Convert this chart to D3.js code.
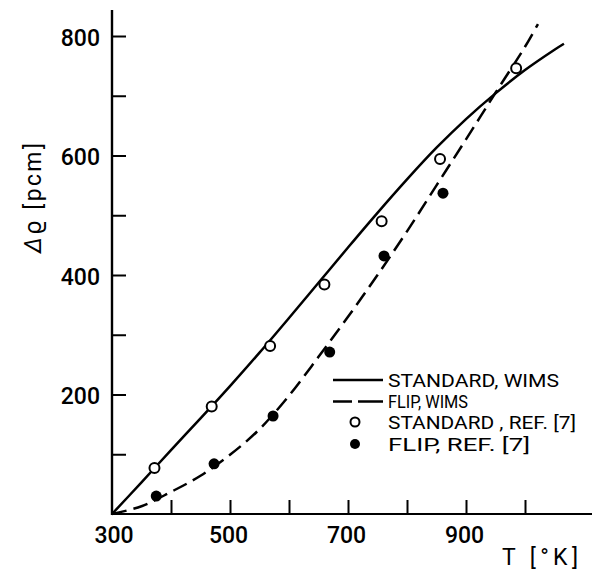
<!DOCTYPE html>
<html>
<head>
<meta charset="utf-8">
<script src="https://cdn.jsdelivr.net/npm/d3@7"></script>
<style>
  html, body { margin: 0; padding: 0; background: #fff; }
  svg { display: block; }
  text { font-family: Roboto, "DejaVu Sans", sans-serif; fill: #000; }
</style>
</head>
<body>
<svg id="chart" width="592" height="571"></svg>
<script>
// ---- data ----
const xTickValues = [400, 500, 600, 700, 800, 900, 1000];
const xTickLabels = ["", "500", "", "700", "", "900", ""];
const xOriginLabel = "300";
const yTickValues = [100, 200, 300, 400, 500, 600, 700, 800];
const yTickLabels = ["", "200", "", "400", "", "600", "", "800"];

const standardWimsT = [300, 350, 400, 450, 500, 550, 600, 650, 700, 750, 800, 850, 900, 950, 1000, 1050, 1066];
const standardWimsV = [0, 53, 107, 160, 214, 270, 328, 387, 446, 504, 560, 613, 661, 704, 743, 777, 787];

const flipWimsT = [300, 350, 400, 450, 500, 550, 600, 650, 700, 750, 800, 850, 900, 950, 1000, 1022];
const flipWimsV = [0, 13, 37, 64, 99, 142, 198, 263, 330, 400, 473, 550, 627, 705, 782, 820];

const standardRefT = [372, 469, 568, 660, 757, 856, 985];
const standardRefV = [77, 180, 281, 384, 490, 594, 746];

const flipRefT = [375, 473, 573, 669, 761, 861];
const flipRefV = [30, 84, 164, 271, 432, 537];

const legendLabels = ["STANDARD, WIMS", "FLIP, WIMS", "STANDARD , REF. [7]", "FLIP, REF. [7]"];
const xAxisTitle = "T [°K]";
const yAxisTitleDelta = "Δ";
const yAxisTitleRest = "ϱ [pcm]";

// ---- drawing ----
const svg = d3.select("#chart");
const x = d3.scaleLinear().domain([300, 1100]).range([112, 584]);
const y = d3.scaleLinear().domain([0, 800]).range([514, 36]);

const fontSize = 23;

// axis lines
svg.append("line").attr("x1", x(300)).attr("x2", 592).attr("y1", y(0)).attr("y2", y(0))
  .attr("stroke", "#000").attr("stroke-width", 2.2);
svg.append("line").attr("x1", x(300)).attr("x2", x(300)).attr("y1", y(0) + 1).attr("y2", 10)
  .attr("stroke", "#000").attr("stroke-width", 2.4);

// x axis
const xAxis = d3.axisBottom(x)
  .tickValues(xTickValues)
  .tickSizeInner(-14).tickSizeOuter(0).tickPadding(13)
  .tickFormat((d, i) => xTickLabels[i]);
const gx = svg.append("g").attr("transform", `translate(0,${y(0)})`).call(xAxis);
gx.select(".domain").remove();
gx.selectAll(".tick line").attr("stroke", "#000").attr("stroke-width", 2);
gx.selectAll(".tick text").attr("font-size", fontSize).attr("font-family", "Roboto, sans-serif")
  .attr("font-weight", 500).attr("fill", "#000").attr("dx", -2);
// origin label
svg.append("text").attr("x", x(300) + 2).attr("y", y(0) + 29).attr("text-anchor", "middle")
  .attr("font-size", fontSize).attr("font-weight", 500).text(xOriginLabel);

// y axis
const yAxis = d3.axisLeft(y)
  .tickValues(yTickValues)
  .tickSizeInner(-14).tickSizeOuter(0).tickPadding(12)
  .tickFormat((d, i) => yTickLabels[i]);
const gy = svg.append("g").attr("transform", `translate(${x(300)},0)`).call(yAxis);
gy.select(".domain").remove();
gy.selectAll(".tick line").attr("stroke", "#000").attr("stroke-width", 2);
gy.selectAll(".tick text").attr("font-size", fontSize).attr("font-family", "Roboto, sans-serif")
  .attr("font-weight", 500).attr("fill", "#000").attr("dy", "0.4em");

// axis titles
svg.append("text").attr("x", 578).attr("y", 565).attr("text-anchor", "end")
  .attr("font-size", fontSize).attr("textLength", 76).attr("lengthAdjust", "spacing").text(xAxisTitle);
const yt = svg.append("text").attr("transform", "translate(41,198) rotate(-90)").attr("text-anchor", "middle")
  .attr("font-size", 23).attr("textLength", 110).attr("lengthAdjust", "spacing");
yt.append("tspan").attr("font-style", "italic").text(yAxisTitleDelta);
yt.append("tspan").text(yAxisTitleRest);

// curves
const line = d3.line().x(d => x(d[0])).y(d => y(d[1])).curve(d3.curveCatmullRom.alpha(0.5));
svg.append("path").datum(standardWimsT.map((t, i) => [t, standardWimsV[i]]))
  .attr("d", line).attr("fill", "none").attr("stroke", "#000").attr("stroke-width", 2.5);
svg.append("path").datum(flipWimsT.map((t, i) => [t, flipWimsV[i]]))
  .attr("d", line).attr("fill", "none").attr("stroke", "#000").attr("stroke-width", 2.5)
  .attr("stroke-dasharray", "15,7");

// points
svg.selectAll("circle.std").data(standardRefT.map((t, i) => [t, standardRefV[i]])).enter()
  .append("circle").attr("class", "std")
  .attr("cx", d => x(d[0])).attr("cy", d => y(d[1])).attr("r", 5)
  .attr("fill", "#fff").attr("stroke", "#000").attr("stroke-width", 2);
svg.selectAll("circle.flip").data(flipRefT.map((t, i) => [t, flipRefV[i]])).enter()
  .append("circle").attr("class", "flip")
  .attr("cx", d => x(d[0])).attr("cy", d => y(d[1])).attr("r", 5.5)
  .attr("fill", "#000");

// legend
const legendY = [380, 401.5, 422, 444];
const legendTextLen = [171, 80, 188, 142];
const lg = svg.append("g");
legendLabels.forEach((lab, i) => {
  lg.append("text").attr("x", 388).attr("y", legendY[i] + 6.5).attr("font-size", 18)
    .attr("textLength", legendTextLen[i]).attr("lengthAdjust", "spacingAndGlyphs").text(lab);
});
lg.append("line").attr("x1", 333).attr("x2", 383).attr("y1", legendY[0]).attr("y2", legendY[0])
  .attr("stroke", "#000").attr("stroke-width", 2.5);
lg.append("line").attr("x1", 333).attr("x2", 383).attr("y1", legendY[1]).attr("y2", legendY[1])
  .attr("stroke", "#000").attr("stroke-width", 2.5).attr("stroke-dasharray", "19,6,25");
lg.append("circle").attr("cx", 355).attr("cy", legendY[2]).attr("r", 4.5)
  .attr("fill", "#fff").attr("stroke", "#000").attr("stroke-width", 2);
lg.append("circle").attr("cx", 355).attr("cy", legendY[3]).attr("r", 5)
  .attr("fill", "#000");
</script>
</body>
</html>
